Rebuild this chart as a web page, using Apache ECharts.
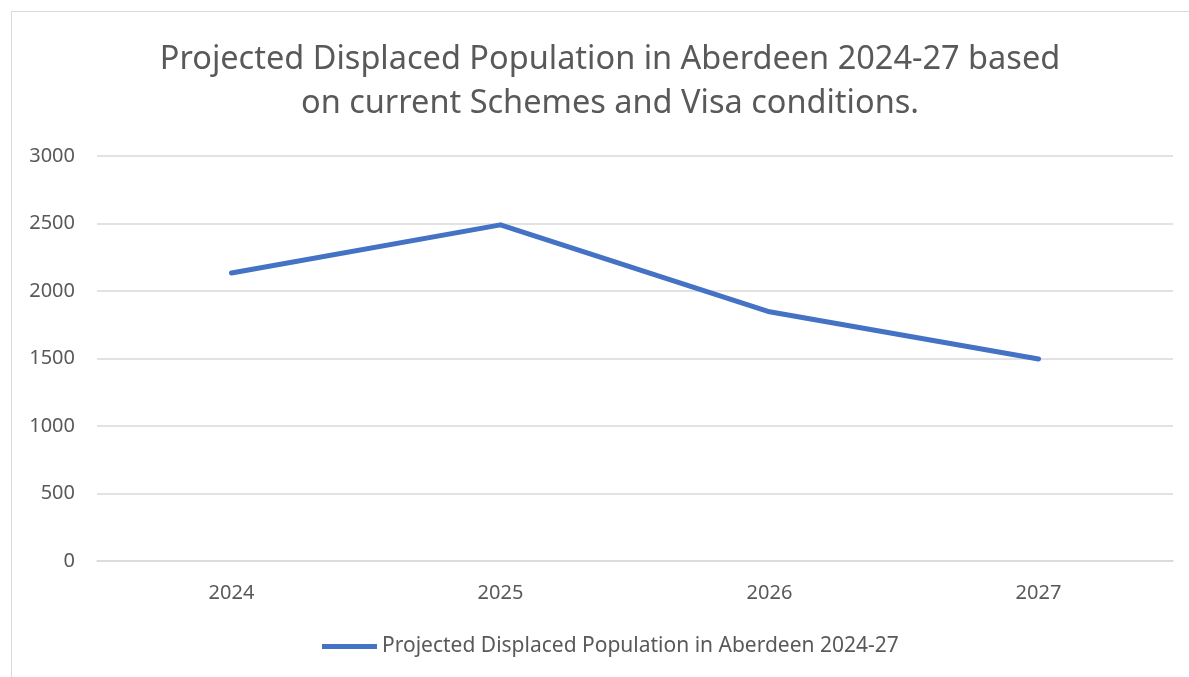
<!DOCTYPE html>
<html><head><meta charset="utf-8">
<script src="https://cdn.jsdelivr.net/npm/echarts@6/dist/echarts.min.js"></script>
<style>
html,body{margin:0;padding:0;background:#fff;overflow:hidden;}
#frame{position:absolute;left:11px;top:11px;width:1190px;height:680px;border:1px solid #d9d9d9;box-sizing:border-box;}
#c{position:absolute;left:0;top:0;width:1189px;height:677px;}
</style></head>
<body><div id="frame"></div><div id="c"></div>
<script>
const categories = ['2024','2025','2026','2027'];
const seriesName = 'Projected Displaced Population in Aberdeen 2024-27';
const values = [2133, 2490, 1846, 1496];
const titleText = 'Projected Displaced Population in Aberdeen 2024-27 based\non current Schemes and Visa conditions.';

const chart = echarts.init(document.getElementById('c'));
const font = 'Noto Sans';
chart.setOption({
  animation:false,
  title:{text:titleText,left:605,top:33,textAlign:'center',textStyle:{fontFamily:font,fontSize:32.5,fontWeight:'normal',color:'#595959',lineHeight:44}},
  grid:{left:97,right:16,top:156,bottom:116,containLabel:false},
  legend:{top:631,left:317,itemWidth:55,itemHeight:5,itemGap:0,icon:'rect',
    textStyle:{fontFamily:font,fontSize:21,color:'#595959'},data:[seriesName]},
  xAxis:{type:'category',data:categories,boundaryGap:true,
    axisLine:{lineStyle:{color:'#d9d9d9',width:1.5}},axisTick:{show:false},
    axisLabel:{fontFamily:font,fontSize:20,color:'#595959',margin:22}},
  yAxis:{type:'value',min:0,max:3000,interval:500,
    axisLine:{show:false},axisTick:{show:false},
    splitLine:{lineStyle:{color:'#d9d9d9',width:1.5}},
    axisLabel:{fontFamily:font,fontSize:20,color:'#595959',margin:22,formatter:v=>String(v)}},
  series:[{name:seriesName,type:'line',data:values,symbol:'none',
    lineStyle:{color:'#4472c4',width:5,cap:'round',join:'round'},itemStyle:{color:'#4472c4'}}]
});
</script></body></html>
